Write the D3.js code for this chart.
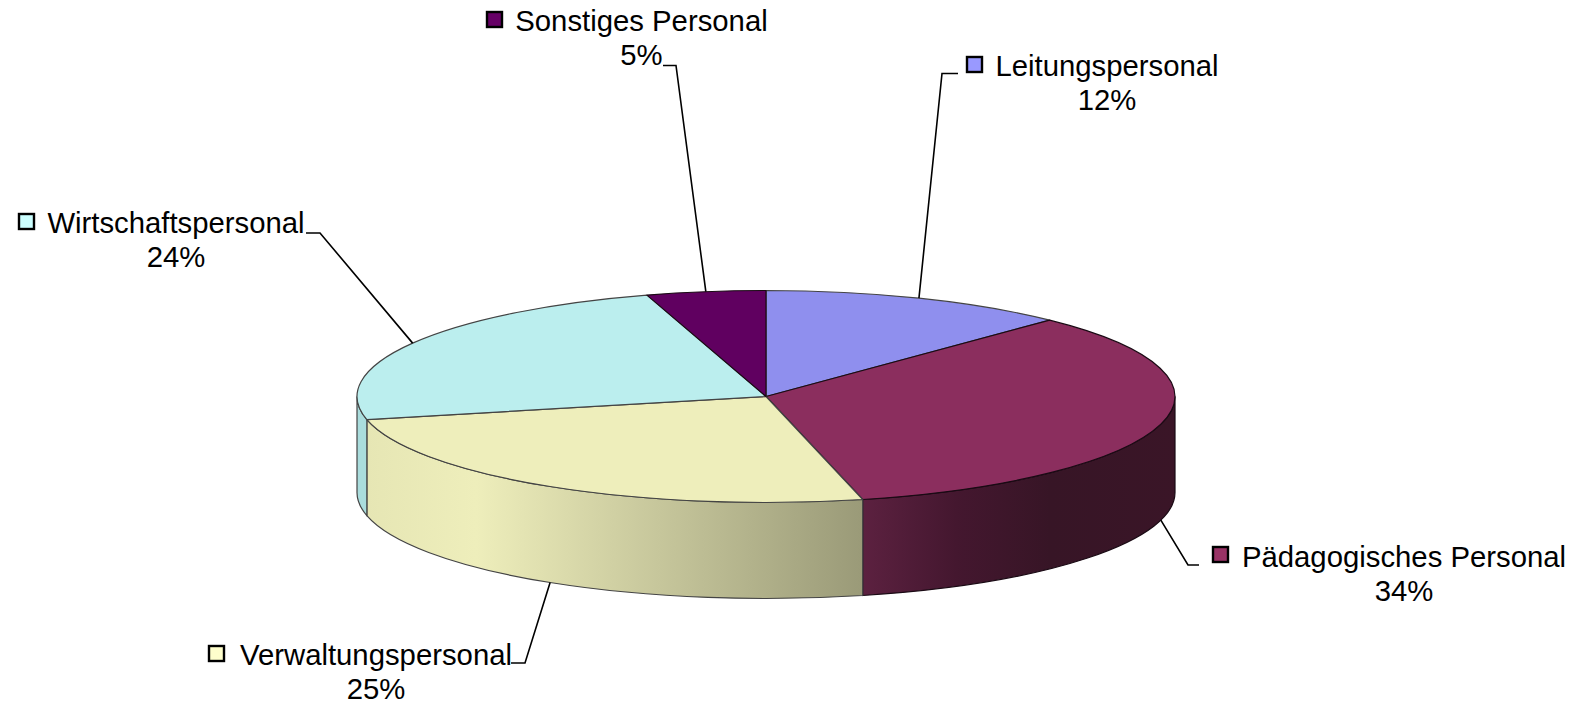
<!DOCTYPE html>
<html><head><meta charset="utf-8">
<style>html,body{margin:0;padding:0;background:#fff;overflow:hidden}svg{display:block}text{font-family:"Liberation Sans",Arial,sans-serif;font-size:29.3px;fill:#000}</style>
<script src="https://cdn.jsdelivr.net/npm/d3@7/dist/d3.min.js"></script>
</head><body><svg id="c" width="1576" height="705"></svg>
<script>
const categories = ["Leitungspersonal","Pädagogisches Personal","Verwaltungspersonal","Wirtschaftspersonal","Sonstiges Personal"];
const shares = [12.2,34.0,25.3,23.8,4.7];
const keyColors = ["#9999ff","#993366","#ffffcc","#ccffff","#660066"];
const topColors = ["#8f8fee","#8b2e5e","#eeeebb","#bbeeee","#600060"];
const wallStops = [
  [[0,"#8f8fee"],[1,"#8f8fee"]],
  [[0,"#5c2140"],[0.3,"#44172f"],[0.6,"#371526"],[1,"#3a1527"]],
  [[0,"#e6e6b4"],[0.22,"#eeeebb"],[1,"#9a9a78"]],
  [[0,"#aadddd"],[1,"#aadddd"]],
  [[0,"#600060"],[1,"#600060"]]
];
const CX=766, CY=396.5, RX=409, RY=106, DEPTH=96;
const sx=d3.scaleLinear().domain([-1,1]).range([CX-RX,CX+RX]);
const sy=d3.scaleLinear().domain([-1,1]).range([CY-RY,CY+RY]);
const px=a=>sx(Math.sin(a)), py=a=>sy(-Math.cos(a));
const labelLayout=[
 {tx:1107,by:76,key:[967,57],elbow:[[942,73.5],[958,73.5]]},
 {tx:1404,by:567,key:[1213,547],elbow:[[1188,565],[1199,565]],wall:true},
 {tx:376,by:665,key:[209,646],elbow:[[525,663],[511,663]],wall:true},
 {tx:176,by:233,key:[19,214],elbow:[[320,233],[306,233]]},
 {tx:641.5,by:31,key:[487,12],elbow:[[676,65.5],[663,65.5]]}
];
const arcs=d3.pie().sort(null).value(d=>d).startAngle(0).endAngle(2*Math.PI)(shares);
const svg=d3.select("#c"), defs=svg.append("defs");
const HALF=Math.PI/2, END=Math.PI*1.5;
const walls=arcs.map((d,i)=>{const a0=Math.max(d.startAngle,HALF),a1=Math.min(d.endAngle,END);return a1>a0?{i,a0,a1}:null}).filter(Boolean);
walls.forEach(w=>{
  const g=defs.append("linearGradient").attr("id","w"+w.i).attr("gradientUnits","userSpaceOnUse")
   .attr("x1",px(w.a1)).attr("x2",px(w.a0)).attr("y1",0).attr("y2",0);
  wallStops[w.i].forEach(s=>g.append("stop").attr("offset",s[0]).attr("stop-color",s[1]));
});
const strokeFor=i=>i===1||i===4?"#1a0a14":"#444";
svg.append("g").selectAll("path").data(walls).join("path")
 .attr("d",w=>{
  const x0=px(w.a0),y0=py(w.a0),x1=px(w.a1),y1=py(w.a1);
  return `M${x0},${y0}A${RX},${RY} 0 0 1 ${x1},${y1}L${x1},${y1+DEPTH}A${RX},${RY} 0 0 0 ${x0},${y0+DEPTH}Z`;
 })
 .attr("fill",w=>`url(#w${w.i})`).attr("stroke",w=>strokeFor(w.i)).attr("stroke-width",1.2);
svg.append("g").selectAll("path").data(arcs).join("path")
 .attr("d",d=>{
  const large=d.endAngle-d.startAngle>Math.PI?1:0;
  return `M${sx(0)},${sy(0)}L${px(d.startAngle)},${py(d.startAngle)}A${RX},${RY} 0 ${large} 1 ${px(d.endAngle)},${py(d.endAngle)}Z`;
 })
 .attr("fill",(d,i)=>topColors[i]).attr("stroke",(d,i)=>strokeFor(i)).attr("stroke-width",1.2).attr("stroke-linejoin","round");
const line=d3.line();
svg.append("g").selectAll("path").data(arcs).join("path")
 .attr("d",(d,i)=>{
  const L=labelLayout[i], m=(d.startAngle+d.endAngle)/2;
  const s=[px(m),py(m)+(L.wall?DEPTH:0)];
  return line([s,...L.elbow]);
 }).attr("fill","none").attr("stroke","#000").attr("stroke-width",1.6);
const lab=svg.append("g").selectAll("g").data(arcs).join("g");
lab.append("rect").attr("x",(d,i)=>labelLayout[i].key[0]).attr("y",(d,i)=>labelLayout[i].key[1])
 .attr("width",15).attr("height",15).attr("fill",(d,i)=>keyColors[i]).attr("stroke","#000").attr("stroke-width",2.4);
lab.append("text").attr("x",(d,i)=>labelLayout[i].tx).attr("y",(d,i)=>labelLayout[i].by).attr("text-anchor","middle").text((d,i)=>categories[i]);
lab.append("text").attr("x",(d,i)=>labelLayout[i].tx).attr("y",(d,i)=>labelLayout[i].by+34).attr("text-anchor","middle").text(d=>Math.round(d.data)+"%");
</script></body></html>
